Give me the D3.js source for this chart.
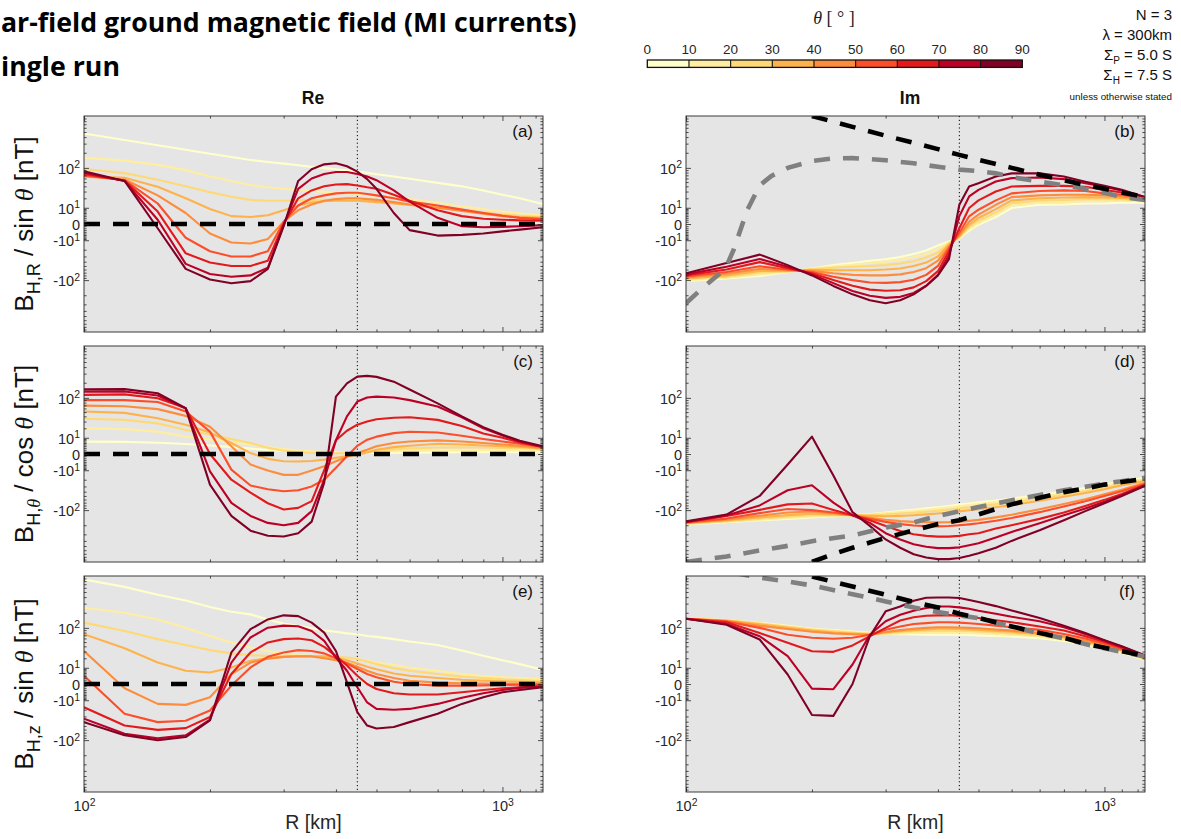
<!DOCTYPE html>
<html>
<head>
<meta charset="utf-8">
<title>Far-field ground magnetic field (MI currents)</title>
<script src="https://cdn.jsdelivr.net/npm/d3@7/dist/d3.min.js"></script>
<style>
  html, body { margin: 0; padding: 0; background: #fff; }
  svg { display: block; }
</style>
</head>
<body>
<svg id="fig" width="1181" height="839" xmlns="http://www.w3.org/2000/svg"></svg>
<script>
// ---------------- data ----------------
// radial distance samples [km]
const R = [100,125,150,175,200,225,250,275,300,325,350,375,400,425,450,475,500,550,600,700,800,900,1000,1100,1250];

// colatitude of each run [deg] and colour classes of the colour bar
const thetaDeg = [5,15,25,35,45,55,65,75,85];
const binEdges = [0,10,20,30,40,50,60,70,80,90];
const binColors = ["#ffffcc","#ffeda0","#fed976","#feb24c","#fd8d3c","#fc4e2a","#e31a1c","#bd0026","#800026"];

// (a) Re B_H,R / sin(theta) [nT], one row per theta
const reBR = [
  [469,353,279,229,192,165,144,131,122,113,105,99,94,89,84,79,74,66,59,48,40,32,25,20,13.4],
  [160,140,115,90,66,53,43,38,35,33,31,29.5,28.5,27,25.8,24.6,23.5,21,19,15,11.2,9,7.1,5.8,4.3],
  [95,78,56,40,29,22,18,17,17,17.5,18,18,18,18,17.5,16.8,16,14.5,13,10.5,8.5,6.5,5,4.2,3.5],
  [68,62,39,20,9,4,3.5,4.5,8,12,15,16.5,17,17.2,17,16.3,15.5,14,12.5,10,8,6,4.5,3.5,3],
  [66,57,24,6,-5,-12,-13,-9,1,8,13,17,19,20,20,19,18,15.5,13,10,7.5,5.5,4,3.2,2.6],
  [70,55,14,-8,-22,-30,-30,-22,1,12,20,24,27,28,28,26,24,20,16,12,8.5,6,4.2,3,2.2],
  [75,54,7,-25,-42,-50,-50,-38,0,20,32,40,44,45,42,38,35,25,17,8,4,2.5,2,1.7,1.5],
  [80,53,2,-45,-75,-85,-80,-55,-0.5,35,60,75,82,82,75,66,55,32,16,3,-1,-1.5,-1.3,-1,-0.5],
  [85,53,-2,-58,-97,-116,-105,-58,-1,53,94,118,124,108,84,58,35,6,-3,-6.4,-5.9,-5,-3.7,-2.7,-1.5]
];

// (b) Im B_H,R / sin(theta) [nT]
const imBR = [
  [-104,-93,-82,-68,-57,-48,-43,-38,-35,-31,-26,-21,-15,-11,-8.5,-3.3,-0.3,3.4,9.8,12.7,13,14,14,15,14.5],
  [-100,-89,-76,-67,-58,-51,-47,-43,-40,-36,-31,-26,-19,-12,-8,-2.3,0.4,4.9,12.2,15,15.5,16.5,16.5,17.4,16.2],
  [-96,-85,-70,-66,-59,-55,-52,-50,-48,-44,-39,-32,-24,-13,-7.5,-1.3,1.5,6.4,14.4,17.4,18,19,19,19,17.4],
  [-92,-80,-64,-64,-61,-62,-62,-62,-60,-57,-50,-42,-30,-14,-7,-0.3,2.9,8.9,17.4,20,21,21.5,21,20.5,18],
  [-88,-74,-58,-62,-64,-72,-78,-80,-80,-76,-68,-56,-38,-16,-6,1.1,4.9,12.7,21.5,24,25,25,24,22.6,19],
  [-84,-68,-51,-60,-68,-85,-100,-112,-114,-110,-98,-78,-50,-18,-4.5,3.9,8.4,17.4,27,31,32,31,27,25,19.6],
  [-80,-60,-41,-56,-72,-100,-130,-155,-163,-160,-140,-105,-65,-22,-2,9.8,17.4,30,39.6,41,41,39,33,28.5,20.5],
  [-76,-52,-34.5,-52,-76,-115,-165,-205,-225,-215,-180,-130,-78,-28,4,22.5,33,51.5,61,63,58,47,39,32,21.5],
  [-72,-43,-27,-48,-80,-131,-192,-250,-285,-250,-192,-131,-80,-35,12.7,39.6,47,66,77,77,66,51,41,33,21.5]
];
const imBR_grayR = [100,110,120,125,130,140,150,160,175,200,225,250,275,300,350,400,450,500,550,600,700,800,900,1000,1100,1250];
const imBR_grayV = [-285,-140,-75,-50,-20,8,42,68,100,138,155,157,150,142,124,105,92,86,77,64,51,42,35,28,22,18];
const imBR_blackR = [200,250,300,350,400,450,500,600,700,800,900,1000,1100,1250];
const imBR_blackV = [1000,625,425,310,235,182,146,100,72,55,43,35,28.5,21.5];

// (c) Re B_H,theta / cos(theta) [nT]
const reBT = [
  [7,6.8,6.2,5.3,4.4,3.5,2.6,1.9,1.4,1.1,0.9,0.7,0.6,0.5,0.5,0.5,0.5,0.6,0.6,0.7,0.8,0.8,0.8,0.8,0.8],
  [20,19,16,11,8.5,6.5,5,3.5,2.3,1.6,1.2,1,0.9,0.9,0.9,1,1.1,1.3,1.5,1.8,1.9,1.9,1.9,1.8,1.7],
  [35,33,27,18,13,9,6,3,1.5,0.8,0.5,0.3,0.3,0.4,0.5,1,1.5,2.2,2.7,3.2,3.3,3.2,3,2.8,2.4],
  [51.5,48,36,25,15,6,0.4,-2.3,-3.6,-3.8,-3.5,-2.7,-1.8,-1,-0.3,0.7,2,3.4,4.2,5.5,5,4.4,3.9,3.5,2.7],
  [69,67,58,41,22,3.9,-5.7,-10.3,-14.4,-14.4,-10.3,-6.9,-3.6,-1.3,0.4,2,3.9,6,7.1,7.9,7.1,6,5,4.2,2.9],
  [90,90,82,51.5,16,-9.5,-28.5,-35,-39,-37,-30,-20,-8,-1,4.2,8.4,11,14.4,15.8,15,11.8,9,7.1,5.5,3.5],
  [115,118,98,61,0,-20,-42,-72,-97,-90,-65,-10,8,17,25,30,34,37,38,33,23,14,10,6.4,3.5],
  [134,135,112,60,-11,-71,-131,-180,-200,-180,-105,-20,8,40,84,102,106,102,90,66,38,20,12,7,3.5],
  [148,150,124,61,-27,-131,-255,-320,-330,-285,-170,-24,106,195,263,272,260,210,147,77,40,21.5,12.7,7.6,3.9]
];

// (d) Im B_H,theta / cos(theta) [nT]
const imBT = [
  [-192,-175,-160,-150,-140,-133,-127,-120,-112,-105,-98,-92,-87,-82,-77,-73,-69,-63,-57,-48,-40,-33,-27,-22,-17.5],
  [-188,-171,-155,-143,-134,-130,-127,-122,-116,-110,-104,-98,-93,-88,-83,-79,-75,-68,-62,-52,-43,-36,-29,-24,-19],
  [-185,-166,-148,-135,-127,-127,-127,-126,-123,-118,-113,-108,-103,-98,-93,-88,-84,-76,-69,-57,-47,-39,-32,-26,-20.5],
  [-182,-161,-140,-126,-118,-122,-127,-131,-133,-131,-127,-122,-117,-112,-106,-101,-96,-87,-79,-64,-52,-43,-35,-28,-22],
  [-179,-155,-130,-112,-107,-116,-127,-142,-156,-166,-172,-175,-176,-174,-170,-164,-157,-140,-124,-96,-75,-59,-46,-36,-24],
  [-177,-148,-115,-95,-100,-112,-127,-150,-172,-190,-202,-208,-210,-207,-200,-192,-183,-163,-144,-110,-84,-65,-50,-39,-26],
  [-175,-131,-99,-76,-73,-99,-127,-160,-206,-258,-298,-321,-331,-331,-321,-298,-285,-232,-200,-150,-112,-82,-61,-45,-27],
  [-172,-128,-80,-37,-28,-70,-127,-180,-285,-375,-462,-518,-549,-549,-530,-482,-442,-346,-269,-183,-127,-93,-67,-48,-28],
  [-168,-123,-50,-5.7,11,-15,-110,-206,-375,-540,-713,-822,-883,-883,-840,-765,-682,-540,-400,-250,-160,-105,-72,-50,-29]
];
const imBT_grayR = [100,125,150,175,200,250,300,350,400,450,500,600,700,800,900,1000,1100,1250];
const imBT_grayV = [-1000,-787,-608,-497,-405,-315,-222,-176,-131,-105,-86.5,-62,-48,-37,-30.6,-25.3,-22,-17.7];
const imBT_blackR = [200,225,250,275,300,350,400,450,500,600,700,800,900,1000,1100,1250];
const imBT_blackV = [-1000,-710,-540,-430,-350,-250,-190,-160,-122,-76,-55,-41,-33.5,-27,-23,-19];

// (e) Re B_H,z / sin(theta) [nT]
const reBZ = [
  [858,625,442,345,258,210,186,148,122,109,98,89,83,77,74,68,65,58,51.5,43,32,23.3,17.7,13.4,8.4],
  [250,200,148,101,68,49,37.5,31,27,24.5,23.3,21.9,21,20,19,17,15,12.7,10.3,7.6,5.3,4,3.3,2.9,2.4],
  [128,86.5,58,43,32.5,27,24.3,23.3,23.3,23.3,23,22,21.5,21,19,16.2,13.4,9.7,7.6,5.3,3.7,2.9,2.2,1.8,1.2],
  [74,36,15,7.6,6.4,10.3,17,20.2,21.9,22.8,22.8,22.5,21,17.7,14,10.9,8.7,5.7,4.2,2.9,2,1.5,1.2,1,0.6],
  [31,-2,-13.4,-14.4,-7.6,5.3,15,19.6,21.9,22.8,22.5,20,17.7,14.7,10.9,7.6,5.3,2.9,1.5,0.6,0.3,0.2,0.1,0.1,0.1],
  [4.2,-25.8,-41,-38,-21,-0.7,10.3,22,28.5,32.5,31,27,20,14,9,5.3,3.3,1,0,-0.7,-0.7,-0.6,-0.4,-0.3,-0.2],
  [-17,-49,-61,-56,-31,5.3,28.5,49,58,60,55,39,23,12,4.2,0,-2.4,-4.8,-5.7,-5.7,-4.2,-2.9,-2,-1.5,-0.9],
  [-34,-74,-92,-80,-36,15,63,101,111,108,86.5,53,21,7.6,-1.5,-12,-19,-20,-19,-13.4,-8,-4.8,-2.9,-1.8,-1],
  [-41,-79,-101,-86.5,-37.5,28.5,94,148,178,172,128,80,31,0.7,-23.3,-49,-57,-53,-41,-25.8,-13.4,-7.6,-4.2,-2.9,-1.5]
];

// (f) Im B_H,z / sin(theta) [nT]
const imBZ = [
  [153,144,126,110,96,90,84,79,76,74,73,72.5,72,72,72,71,70,68,66,61,53,44,35,28,18],
  [153,143,124,108,94,88,82,77,76,77,79,80,80,80,80,79,78,75,72,66,56,46,37,29,18.5],
  [153,142,122,105,92,85,79,75,77,81,85,87,88,88,87,86,84,81,77,70,60,49,39,31,19],
  [153,140,118,100,88,80,76,73,80,86,90,93,96,96,95,93,91,87,83,75,64,52,42,32,20],
  [153,138,110,95,83,77,74,72,82,90,96,100,103,103,102,100,98,93,88,79,67,54,43,33,21],
  [153,135,100,72,62,59,62,72,92,107,120,125,130,130,128,124,120,111,103,91,75,60,46,34,22],
  [153,130,78,48,30.5,29.5,42,67,100,141,163,175,178,180,174,167,158,142,130,107,88,67,50,37,23],
  [153,120,67,23,-2.2,-2.5,13,72,136,183,219,247,265,265,254,239,219,192,167,136,103,75,54,39,23.5],
  [153,116,57,5,-27.6,-29,0,67,213,265,341,388,394,394,384,351,322,269,222,158,111,78,55,40,24]
];
const imBZ_grayR = [130,150,175,200,250,300,350,400,450,500,600,700,800,900,1000,1100,1250];
const imBZ_grayV = [1150,935,787,663,455,331,254,206,178,156,107,77,60,45,36,29.5,22.3];
const imBZ_blackR = [200,250,300,350,400,450,500,600,700,800,900,1000,1100,1250];
const imBZ_blackV = [976,635,442,322,254,192,158,107,78,62,46,37,30.5,22.9];

// zero reference for the real parts
const zeroR = [100,1250];
const zeroV = [0,0];

// R of the vertical marker line [km]
const markerR = 450;

// axis ticks and labels
const xDomain = [100,1250];
const yDomain = [-1000,1000];
const xMajor = [100,1000];
const xMinor = [200,300,400,500,600,700,800,900,1100,1200];
const xTickLabels = [["10","2"],["10","3"]];
const yMajor = [-100,-10,0,10,100];
const yTickLabels = [["-10","2"],["-10","1"],["0",""],["10","1"],["10","2"]];
const yMinor = [-900,-800,-700,-600,-500,-400,-300,-200,-90,-80,-70,-60,-50,-40,-30,-20,
                -9,-8,-7,-6,-5,-4,-3,-2,-1,1,2,3,4,5,6,7,8,9,
                20,30,40,50,60,70,80,90,200,300,400,500,600,700,800,900];

// ---------------- layout ----------------
const colLeft = [84, 686];
const panelW = 459;
const rowTop = [116, 346, 576];
const panelH = 216;
const sans = '"Liberation Sans", Arial, Helvetica, sans-serif';
const serif = '"Liberation Serif", "DejaVu Serif", serif';
const ink = '#262626';

const svg = d3.select('#fig');
const defs = svg.append('defs');
const thetaColor = d3.scaleThreshold().domain(binEdges.slice(1, -1)).range(binColors);

const panels = [
  { tag: '(a)', col: 0, row: 0, series: reBR, refs: [[zeroR, zeroV, '#000']],
    ylab: [{t:'B'},{t:'H,R',sub:true},{t:' / sin '},{t:'\u03b8',it:true},{t:' [nT]'}] },
  { tag: '(b)', col: 1, row: 0, series: imBR,
    refs: [[imBR_grayR, imBR_grayV, '#808080'], [imBR_blackR, imBR_blackV, '#000']] },
  { tag: '(c)', col: 0, row: 1, series: reBT, refs: [[zeroR, zeroV, '#000']],
    ylab: [{t:'B'},{t:'H,',sub:true},{t:'\u03b8',sub:true,it:true},{t:' / cos '},{t:'\u03b8',it:true},{t:' [nT]'}] },
  { tag: '(d)', col: 1, row: 1, series: imBT,
    refs: [[imBT_grayR, imBT_grayV, '#808080'], [imBT_blackR, imBT_blackV, '#000']] },
  { tag: '(e)', col: 0, row: 2, series: reBZ, refs: [[zeroR, zeroV, '#000']],
    ylab: [{t:'B'},{t:'H,z',sub:true},{t:' / sin '},{t:'\u03b8',it:true},{t:' [nT]'}] },
  { tag: '(f)', col: 1, row: 2, series: imBZ,
    refs: [[imBZ_grayR, imBZ_grayV, '#808080'], [imBZ_blackR, imBZ_blackV, '#000']] }
];

// text made of plain / subscript / italic pieces
function richText(textSel, parts, subSize, subShift) {
  let shift = 0;
  parts.forEach(p => {
    const target = p.sub ? subShift : 0;
    const ts = textSel.append('tspan').text(p.t);
    if (target !== shift) ts.attr('dy', target - shift);
    shift = target;
    if (p.sub) ts.attr('font-size', subSize);
    if (p.it) ts.attr('font-style', 'italic').attr('font-family', serif);
  });
}

// base + raised exponent inside an axis tick label
function powerLabel(textSel, base, exp) {
  textSel.text(null);
  textSel.append('tspan').text(base);
  if (exp) textSel.append('tspan').attr('dy', '-0.5em').attr('font-size', '0.72em').text(exp);
}

function drawPanel(p) {
  const xl = colLeft[p.col], xr = xl + panelW;
  const yt = rowTop[p.row], yb = yt + panelH;
  const x = d3.scaleLog().domain(xDomain).range([xl, xr]);
  const y = d3.scaleSymlog().constant(10).domain(yDomain).range([yb, yt]);
  const g = svg.append('g');
  const clipId = 'clip' + p.tag.replace(/[()]/g, '');
  defs.append('clipPath').attr('id', clipId)
    .append('rect').attr('x', xl).attr('y', yt).attr('width', panelW).attr('height', panelH);

  g.append('rect').attr('x', xl).attr('y', yt).attr('width', panelW).attr('height', panelH)
    .attr('fill', '#e5e5e5');

  const plot = g.append('g').attr('clip-path', `url(#${clipId})`);

  plot.append('line')
    .attr('x1', x(markerR)).attr('x2', x(markerR)).attr('y1', yt).attr('y2', yb)
    .attr('stroke', '#000').attr('stroke-width', 1).attr('stroke-dasharray', '1.2 2.6');

  const curve = d3.line().x((d, i) => x(R[i])).y(d => y(d));
  p.series.forEach((vals, k) => {
    plot.append('path').attr('d', curve(vals))
      .attr('fill', 'none').attr('stroke', thetaColor(thetaDeg[k]))
      .attr('stroke-width', 2.1).attr('stroke-linejoin', 'round');
  });

  p.refs.forEach(([rr, vv, c]) => {
    const refLine = d3.line().x((d, i) => x(rr[i])).y(d => y(d));
    plot.append('path').attr('d', refLine(vv))
      .attr('fill', 'none').attr('stroke', c).attr('stroke-width', 4.6)
      .attr('stroke-dasharray', '16 13');
  });

  // inward ticks on all four sides
  const axes = g.append('g').attr('color', ink);
  const tickSets = [
    [d3.axisBottom(x), `translate(0,${yb})`, xMajor, 5],
    [d3.axisBottom(x), `translate(0,${yb})`, xMinor, 2.6],
    [d3.axisTop(x), `translate(0,${yt})`, xMajor, 5],
    [d3.axisTop(x), `translate(0,${yt})`, xMinor, 2.6],
    [d3.axisLeft(y), `translate(${xl},0)`, yMajor, 5],
    [d3.axisLeft(y), `translate(${xl},0)`, yMinor, 2.6],
    [d3.axisRight(y), `translate(${xr},0)`, yMajor, 5],
    [d3.axisRight(y), `translate(${xr},0)`, yMinor, 2.6]
  ];
  tickSets.forEach(([ax, tr, vals, len]) => {
    axes.append('g').attr('transform', tr)
      .call(ax.tickValues(vals).tickSize(-len).tickSizeOuter(0).tickFormat(() => ''))
      .call(s => s.select('.domain').remove())
      .call(s => s.selectAll('line').attr('stroke-width', 0.8));
  });

  // y tick labels
  const yl = axes.append('g').attr('transform', `translate(${xl},0)`)
    .call(d3.axisLeft(y).tickValues(yMajor).tickSize(0).tickPadding(4).tickFormat(() => ''))
    .call(s => s.select('.domain').remove());
  yl.selectAll('.tick text')
    .attr('font-family', sans).attr('font-size', 14.5).attr('fill', ink).attr('dy', '0.36em')
    .each(function (d, i) { powerLabel(d3.select(this), yTickLabels[i][0], yTickLabels[i][1]); });

  // x tick labels on the bottom row
  if (p.row === 2) {
    const xa = axes.append('g').attr('transform', `translate(0,${yb})`)
      .call(d3.axisBottom(x).tickValues(xMajor).tickSize(0).tickPadding(9).tickFormat(() => ''))
      .call(s => s.select('.domain').remove());
    xa.selectAll('.tick text')
      .attr('font-family', sans).attr('font-size', 14.5).attr('fill', ink)
      .each(function (d, i) { powerLabel(d3.select(this), xTickLabels[i][0], xTickLabels[i][1]); });
    g.append('text').attr('x', (xl + xr) / 2).attr('y', 829)
      .attr('text-anchor', 'middle').attr('font-family', sans).attr('font-size', 19.5)
      .attr('fill', ink).text('R [km]');
  }

  g.append('rect').attr('x', xl).attr('y', yt).attr('width', panelW).attr('height', panelH)
    .attr('fill', 'none').attr('stroke', ink).attr('stroke-width', 0.9);

  g.append('text').attr('x', xr - 10).attr('y', yt + 21).attr('text-anchor', 'end')
    .attr('font-family', sans).attr('font-size', 17).attr('fill', '#111').text(p.tag);

  if (p.ylab) {
    const cy = (yt + yb) / 2;
    const t = g.append('text')
      .attr('transform', `translate(33,${cy}) rotate(-90)`)
      .attr('text-anchor', 'middle').attr('font-family', sans).attr('font-size', 26)
      .attr('fill', '#111');
    richText(t, p.ylab, 18, 7);
  }
}

panels.forEach(drawPanel);

// column headings
svg.append('text').attr('x', 313).attr('y', 104).attr('text-anchor', 'middle')
  .attr('font-family', sans).attr('font-weight', 700).attr('font-size', 17.5).attr('fill', '#111').text('Re');
svg.append('text').attr('x', 910).attr('y', 104).attr('text-anchor', 'middle')
  .attr('font-family', sans).attr('font-weight', 700).attr('font-size', 17.5).attr('fill', '#111').text('Im');

// figure title and subtitle, sized to fill their header width
function fitTitle(str, xStart, yBase, size, width) {
  const t = svg.append('text').attr('x', xStart).attr('y', yBase)
    .attr('font-family', '"Open Sans", "Noto Sans", sans-serif').attr('font-weight', 700)
    .attr('font-size', size).attr('fill', '#000').text(str);
  const L = t.node().getComputedTextLength();
  if (L > 0) t.attr('font-size', size * width / L);
}
fitTitle('ar-field ground magnetic field (MI currents)', 1, 32, 22, 576);
fitTitle('ingle run', 1, 76, 19, 119);

// colour bar for theta
const cb = svg.append('g');
const cbX = d3.scaleLinear().domain([0, 90]).range([647.3, 1022.3]);
const cbTop = 60, cbH = 7.4;
cb.selectAll('rect.bin').data(binColors).enter().append('rect')
  .attr('x', (d, i) => cbX(binEdges[i])).attr('y', cbTop)
  .attr('width', (d, i) => cbX(binEdges[i + 1]) - cbX(binEdges[i])).attr('height', cbH)
  .attr('fill', d => d);
cb.selectAll('line.div').data(binEdges.slice(1, -1)).enter().append('line')
  .attr('x1', d => cbX(d)).attr('x2', d => cbX(d)).attr('y1', cbTop).attr('y2', cbTop + cbH)
  .attr('stroke', '#111').attr('stroke-width', 1.1);
cb.append('rect').attr('x', cbX(0)).attr('y', cbTop).attr('width', cbX(90) - cbX(0)).attr('height', cbH)
  .attr('fill', 'none').attr('stroke', '#111').attr('stroke-width', 1.3);
cb.selectAll('text.lab').data(binEdges).enter().append('text')
  .attr('x', d => cbX(d)).attr('y', 54).attr('text-anchor', 'middle')
  .attr('font-family', sans).attr('font-size', 13.5).attr('fill', ink).text(d => d);

const cbTitle = svg.append('text').attr('x', 834).attr('y', 24).attr('text-anchor', 'middle')
  .attr('font-family', serif).attr('font-size', 18).attr('fill', '#222');
cbTitle.append('tspan').attr('font-style', 'italic').text('\u03b8');
cbTitle.append('tspan').text(' [ \u00b0 ]');

// run parameters
const info = svg.append('g').attr('font-family', sans).attr('fill', '#111').attr('text-anchor', 'end');
const infoX = 1172;
info.append('text').attr('x', infoX).attr('y', 20).attr('font-size', 15).text('N = 3');
info.append('text').attr('x', infoX).attr('y', 40).attr('font-size', 15).text('\u03bb = 300km');
const sp = info.append('text').attr('x', infoX).attr('y', 59.5).attr('font-size', 15);
sp.append('tspan').text('\u03a3');
sp.append('tspan').attr('font-size', 10).attr('dy', 4).text('P');
sp.append('tspan').attr('dy', -4).text(' = 5.0 S');
const sh = info.append('text').attr('x', infoX).attr('y', 79.5).attr('font-size', 15);
sh.append('tspan').text('\u03a3');
sh.append('tspan').attr('font-size', 10).attr('dy', 4).text('H');
sh.append('tspan').attr('dy', -4).text(' = 7.5 S');
info.append('text').attr('x', infoX).attr('y', 100).attr('font-size', 9.8).text('unless otherwise stated');
</script>
</body>
</html>
